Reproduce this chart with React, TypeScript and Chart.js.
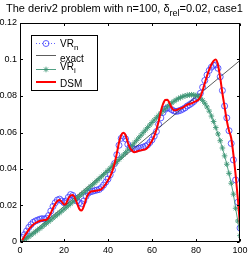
import React, { useEffect, useRef } from "react";
import { Chart, registerables } from "chart.js";

Chart.register(...registerables);

const idx: number[] = Array.from({ length: 100 }, (_, i) => i + 1);

const vrN: number[] = [
  0.0025, 0.004, 0.006, 0.008, 0.0095, 0.0108, 0.0115, 0.012, 0.0125, 0.0128,
  0.0126, 0.013, 0.0145, 0.017, 0.0195, 0.0215, 0.023, 0.0235, 0.0225, 0.0215,
  0.0225, 0.0245, 0.026, 0.0255, 0.024, 0.0225, 0.0215, 0.021, 0.0225, 0.025,
  0.0268, 0.0275, 0.0278, 0.0282, 0.0285, 0.0288, 0.0298, 0.0312, 0.0328, 0.0345,
  0.0368, 0.0395, 0.043, 0.0478, 0.053, 0.0568, 0.058, 0.0565, 0.0535, 0.052,
  0.0512, 0.0508, 0.051, 0.0513, 0.0516, 0.052, 0.0525, 0.0532, 0.0545, 0.056,
  0.058, 0.0605, 0.0645, 0.068, 0.071, 0.0728, 0.0735, 0.0732, 0.0725, 0.0718,
  0.0715, 0.0718, 0.0722, 0.0728, 0.0735, 0.0745, 0.0752, 0.076, 0.077, 0.0782,
  0.0795, 0.0815, 0.0848, 0.0885, 0.0915, 0.094, 0.0958, 0.0968, 0.097, 0.0952,
  0.0905, 0.083, 0.0745, 0.068, 0.061, 0.054, 0.045, 0.034, 0.0218, 0.0077,
];

const exactX: number[] = [1, 100];
const exactY: number[] = [0.0005, 0.0995];

const vrI: number[] = [
  0.0003, 0.0011, 0.002, 0.0029, 0.0038, 0.0047, 0.0056, 0.0065, 0.0074, 0.0083,
  0.0093, 0.0102, 0.0112, 0.0121, 0.0131, 0.0141, 0.015, 0.016, 0.017, 0.018,
  0.019, 0.02, 0.021, 0.022, 0.023, 0.024, 0.025, 0.0261, 0.0271, 0.0282,
  0.0292, 0.0303, 0.0314, 0.0325, 0.0336, 0.0347, 0.0358, 0.0369, 0.0381, 0.0392,
  0.0404, 0.0416, 0.0428, 0.044, 0.0452, 0.0464, 0.0477, 0.049, 0.0503, 0.0516,
  0.0529, 0.0543, 0.0557, 0.0571, 0.0585, 0.0599, 0.0613, 0.0627, 0.0641, 0.0655,
  0.0668, 0.0681, 0.0694, 0.0706, 0.0718, 0.073, 0.0741, 0.0752, 0.0762, 0.0771,
  0.0779, 0.0786, 0.0792, 0.0797, 0.0801, 0.0804, 0.0806, 0.0807, 0.0806, 0.0803,
  0.0797, 0.0788, 0.0776, 0.076, 0.074, 0.0717, 0.069, 0.066, 0.0627, 0.0592,
  0.0555, 0.0515, 0.0472, 0.0426, 0.0376, 0.0322, 0.0262, 0.0185, 0.0115, 0.0035,
];

const dsm: number[] = [
  0.001, 0.003, 0.005, 0.0068, 0.0083, 0.0095, 0.0104, 0.011, 0.0115, 0.0118,
  0.012, 0.0122, 0.0135, 0.0158, 0.0185, 0.0208, 0.0225, 0.023, 0.022, 0.0205,
  0.0212, 0.0238, 0.0255, 0.0258, 0.024, 0.021, 0.018, 0.0172, 0.0195, 0.0235,
  0.0262, 0.0275, 0.0278, 0.028, 0.0282, 0.0284, 0.029, 0.0302, 0.0318, 0.0338,
  0.036, 0.039, 0.043, 0.0485, 0.0545, 0.0585, 0.0598, 0.0585, 0.0545, 0.0515,
  0.05, 0.0492, 0.0495, 0.05, 0.0502, 0.0505, 0.0508, 0.0518, 0.0535, 0.0555,
  0.058, 0.0615, 0.066, 0.0715, 0.0755, 0.0778, 0.078, 0.076, 0.0735, 0.0722,
  0.0722, 0.0728, 0.0732, 0.0736, 0.0745, 0.0752, 0.0756, 0.076, 0.0766, 0.0772,
  0.0778, 0.0795, 0.083, 0.087, 0.091, 0.0945, 0.0972, 0.0993, 0.1, 0.097,
  0.09, 0.0815, 0.074, 0.0665, 0.061, 0.057, 0.048, 0.037, 0.024, 0.009,
];

const xTicks: number[] = [0, 20, 40, 60, 80, 100];
const yTicks: number[] = [0, 0.02, 0.04, 0.06, 0.08, 0.1, 0.12];

const FONT = "'Liberation Sans', Arial, Helvetica, sans-serif";
const BLUE = "#3a3aff";
const GREEN = "rgb(62,150,118)";
const RED = "#ff0000";

const pts = (ys: number[], xs: number[] = idx) => xs.map((x, i) => ({ x, y: ys[i] }));

function drawText(ctx: CanvasRenderingContext2D, parts: { t: string; sub?: boolean }[], x: number, y: number, size: number, subSize: number, subDy: number) {
  let cx = x;
  for (const p of parts) {
    ctx.font = `${p.sub ? subSize : size}px ${FONT}`;
    ctx.fillText(p.t, cx, p.sub ? y + subDy : y);
    cx += ctx.measureText(p.t).width;
  }
}

const decorPlugin = {
  id: "decor",
  afterDatasetsDraw(chart: any) {
    const { ctx, chartArea } = chart;
    const { left, right, top, bottom } = chartArea;
    const xs = chart.scales.x;
    const ys = chart.scales.y;
    ctx.save();
    ctx.strokeStyle = "#000";
    ctx.lineWidth = 1;
    const L = Math.round(left) + 0.5;
    const R = Math.round(right) - 0.5;
    const T = Math.round(top) + 0.5;
    const B = Math.round(bottom) - 0.5;
    ctx.strokeRect(L, T, R - L, B - T);
    ctx.beginPath();
    const tl = 2.5;
    for (const v of xTicks) {
      const px = Math.round(xs.getPixelForValue(v)) + 0.5;
      ctx.moveTo(px, B);
      ctx.lineTo(px, B - tl);
      ctx.moveTo(px, T);
      ctx.lineTo(px, T + tl);
    }
    for (const v of yTicks) {
      const py = Math.round(ys.getPixelForValue(v)) + 0.5;
      ctx.moveTo(L, py);
      ctx.lineTo(L + tl, py);
      ctx.moveTo(R, py);
      ctx.lineTo(R - tl, py);
    }
    ctx.stroke();

    // legend
    const bx = 31.5, by = 35.5, bw = 66, bh = 55;
    ctx.fillStyle = "#fff";
    ctx.fillRect(bx, by, bw, bh);
    ctx.strokeStyle = "#000";
    ctx.lineWidth = 1;
    ctx.strokeRect(bx, by, bw, bh);
    const lx0 = 36, lx1 = 56, mx = 46, tx = 60;
    ctx.fillStyle = "#000";
    // VR_n
    let y = 43.5;
    ctx.strokeStyle = BLUE;
    ctx.lineWidth = 0.8;
    ctx.setLineDash([1, 2]);
    ctx.beginPath(); ctx.moveTo(lx0, y); ctx.lineTo(lx1, y); ctx.stroke();
    ctx.setLineDash([]);
    ctx.beginPath(); ctx.arc(mx, y, 3, 0, Math.PI * 2); ctx.stroke();
    ctx.fillStyle = "#000";
    drawText(ctx, [{ t: "VR" }, { t: "n", sub: true }], tx, 47, 10, 8, 3);
    // exact
    y = 55.5;
    ctx.strokeStyle = "#333";
    ctx.lineWidth = 0.8;
    ctx.beginPath(); ctx.moveTo(lx0, y); ctx.lineTo(lx1, y); ctx.stroke();
    drawText(ctx, [{ t: "exact" }], tx, 61.5, 10, 8, 3);
    // VR_i
    y = 69.5;
    ctx.strokeStyle = GREEN;
    ctx.lineWidth = 0.9;
    ctx.beginPath(); ctx.moveTo(lx0, y); ctx.lineTo(lx1, y); ctx.stroke();
    ctx.beginPath();
    const r = 2.8;
    ctx.moveTo(mx - r, y); ctx.lineTo(mx + r, y);
    ctx.moveTo(mx, y - r); ctx.lineTo(mx, y + r);
    ctx.moveTo(mx - r * 0.7, y - r * 0.7); ctx.lineTo(mx + r * 0.7, y + r * 0.7);
    ctx.moveTo(mx - r * 0.7, y + r * 0.7); ctx.lineTo(mx + r * 0.7, y - r * 0.7);
    ctx.stroke();
    drawText(ctx, [{ t: "VR" }, { t: "i", sub: true }], tx, 70, 10, 8, 3);
    // DSM
    y = 82;
    ctx.strokeStyle = RED;
    ctx.lineWidth = 2;
    ctx.beginPath(); ctx.moveTo(lx0, y); ctx.lineTo(lx1, y); ctx.stroke();
    drawText(ctx, [{ t: "DSM" }], tx, 86.5, 10, 8, 3);

    // title
    ctx.fillStyle = "#000";
    ctx.textBaseline = "alphabetic";
    drawText(
      ctx,
      [{ t: "The deriv2 problem with n=100, \u03b4" }, { t: "rel", sub: true }, { t: "=0.02, case1" }],
      6, 12, 11, 9, 4
    );
    ctx.restore();
  },
};

export default function App() {
  const ref = useRef<HTMLCanvasElement | null>(null);
  useEffect(() => {
    document.body.style.margin = "0";
    const canvas = ref.current;
    if (!canvas) return;
    const chart = new Chart(canvas, {
      type: "line",
      data: {
        datasets: [
          {
            label: "VR_n",
            data: pts(vrN),
            borderColor: "rgba(58,58,255,0.3)",
            borderWidth: 0.8,
            borderDash: [1, 2],
            pointStyle: "circle",
            pointRadius: 3,
            pointBorderColor: BLUE,
            pointBackgroundColor: "rgba(0,0,0,0)",
            pointBorderWidth: 0.8,
            order: 3,
          },
          {
            label: "exact",
            data: pts(exactY, exactX),
            borderColor: "#333",
            borderWidth: 0.8,
            pointRadius: 0,
            order: 2,
          },
          {
            label: "VR_i",
            data: pts(vrI),
            borderColor: GREEN,
            borderWidth: 0.9,
            pointStyle: "star",
            pointRadius: 2.8,
            pointBorderColor: GREEN,
            pointBackgroundColor: GREEN,
            pointBorderWidth: 0.9,
            order: 1,
          },
          {
            label: "DSM",
            data: pts(dsm),
            borderColor: RED,
            borderWidth: 2,
            pointRadius: 0,
            cubicInterpolationMode: "monotone",
            order: 0,
          },
        ],
      },
      options: {
        animation: false,
        responsive: false,
        devicePixelRatio: 1,
        layout: { padding: { left: 0, right: 11, top: 23, bottom: 0 } },
        plugins: { legend: { display: false }, tooltip: { enabled: false }, title: { display: false } },
        scales: {
          x: {
            type: "linear",
            min: 0,
            max: 100,
            afterBuildTicks: (s: any) => { s.ticks = xTicks.map((v) => ({ value: v })); },
            afterFit: (s: any) => { s.height = 13; },
            ticks: { font: { family: FONT, size: 9 }, color: "#000", padding: 3, maxRotation: 0 },
            grid: { display: false, drawTicks: false },
            border: { display: false },
          },
          y: {
            type: "linear",
            min: 0,
            max: 0.12,
            afterBuildTicks: (s: any) => { s.ticks = yTicks.map((v) => ({ value: v })); },
            afterFit: (s: any) => { s.width = 20; },
            ticks: {
              font: { family: FONT, size: 9 },
              color: "#000",
              padding: 3,
              callback: (v: any) => String(Number(Number(v).toFixed(2))),
            },
            grid: { display: false, drawTicks: false },
            border: { display: false },
          },
        },
      },
      plugins: [decorPlugin],
    } as any);
    return () => chart.destroy();
  }, []);
  return <canvas ref={ref} width={251} height={255} style={{ display: "block", width: 251, height: 255 }} />;
}
